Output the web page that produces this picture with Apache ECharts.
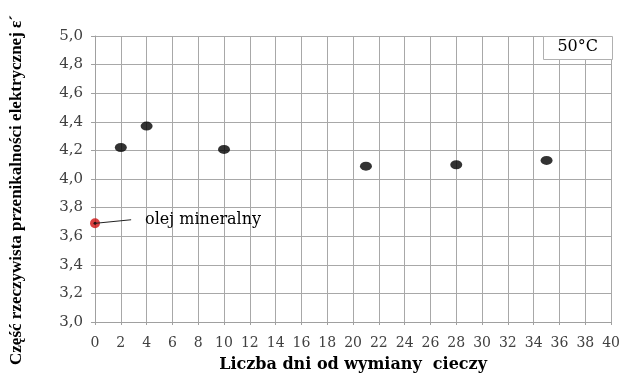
<!DOCTYPE html>
<html><head><meta charset="utf-8">
<script src="https://cdn.jsdelivr.net/npm/echarts@6/dist/echarts.min.js"></script>
<style>html,body{margin:0;padding:0;background:#fff}#c{width:623px;height:378px}</style>
</head><body><div id="c"></div>
<script>
const days = [2, 4, 10, 21, 28, 35];
const values = [4.22, 4.37, 4.207, 4.09, 4.10, 4.13];
const mineralDay = [0];
const mineralValue = [3.69];
const xTitle = 'Liczba dni od wymiany  cieczy';
const yTitle = 'Część rzeczywista przenikalności elektrycznej ε´';
const boxLabel = '50°C';
const noteLabel = 'olej mineralny';

const F = '"DejaVu Serif", "Liberation Serif", serif';
const FT = '"Liberation Serif", "DejaVu Serif", serif';
const chart = echarts.init(document.getElementById('c'));
chart.setOption({
  animation: false,
  backgroundColor: '#fff',
  grid: {left: 95, right: 10, top: 36, bottom: 52, containLabel: false},
  xAxis: {
    type: 'value', min: 0, max: 40, interval: 2,
    name: xTitle, nameLocation: 'middle', nameGap: 35,
    nameTextStyle: {fontFamily: F, fontSize: 16, fontWeight: 'bold', color: '#000'},
    axisLine: {lineStyle: {color: '#a0a0a0'}},
    axisTick: {show: true, length: 3, lineStyle: {color: '#a0a0a0'}},
    axisLabel: {fontFamily: F, fontSize: 14, color: '#404040', margin: 14},
    splitLine: {show: true, lineStyle: {color: '#a8a8a8', width: 1}}
  },
  yAxis: {
    type: 'value', min: 3.0, max: 5.0, interval: 0.2,
    name: yTitle, nameLocation: 'middle', nameGap: 70, nameRotate: 90,
    nameTextStyle: {fontFamily: FT, fontSize: 17, fontWeight: 'bold', color: '#000', padding: [0, 0, 0, -22]},
    axisLine: {show: true, lineStyle: {color: '#a0a0a0'}},
    axisTick: {show: true, length: 4, lineStyle: {color: '#a0a0a0'}},
    axisLabel: {fontFamily: F, fontSize: 15, color: '#404040', margin: 12,
      formatter: v => v.toFixed(1).replace('.', ',')},
    splitLine: {show: true, lineStyle: {color: '#a8a8a8', width: 1}}
  },
  series: [
    {
      type: 'scatter',
      data: days.map((d, i) => [d, values[i]]),
      symbol: 'circle', symbolSize: [12, 9],
      itemStyle: {color: '#000'}
    },
    {
      type: 'scatter',
      data: mineralDay.map((d, i) => [d, mineralValue[i]]),
      symbol: 'circle', symbolSize: 10,
      itemStyle: {color: '#d01010'},
      z: 3,
      markLine: {
        silent: true, symbol: 'none', animation: false,
        lineStyle: {color: '#222', width: 1, type: 'solid'},
        label: {show: true, position: 'end', formatter: noteLabel, distance: [14, 0],
          fontFamily: F, fontSize: 16, color: '#000'},
        data: [[{coord: [mineralDay[0], mineralValue[0]]}, {coord: [2.8, 3.715]}]]
      }
    },
    {
      type: 'scatter',
      data: mineralDay.map((d, i) => [d, mineralValue[i]]),
      symbol: 'circle', symbolSize: 3,
      itemStyle: {color: '#000'}, z: 4
    }
  ],
  graphic: [
    {type: 'rect', right: 10, top: 36, shape: {width: 69, height: 23},
      style: {fill: '#fff', stroke: '#b0b0b0', lineWidth: 1}, z: 10},
    {type: 'text', right: 25, top: 39, style: {text: boxLabel, font: '16px ' + F, fill: '#000'}, z: 11}
  ]
});
</script></body></html>
